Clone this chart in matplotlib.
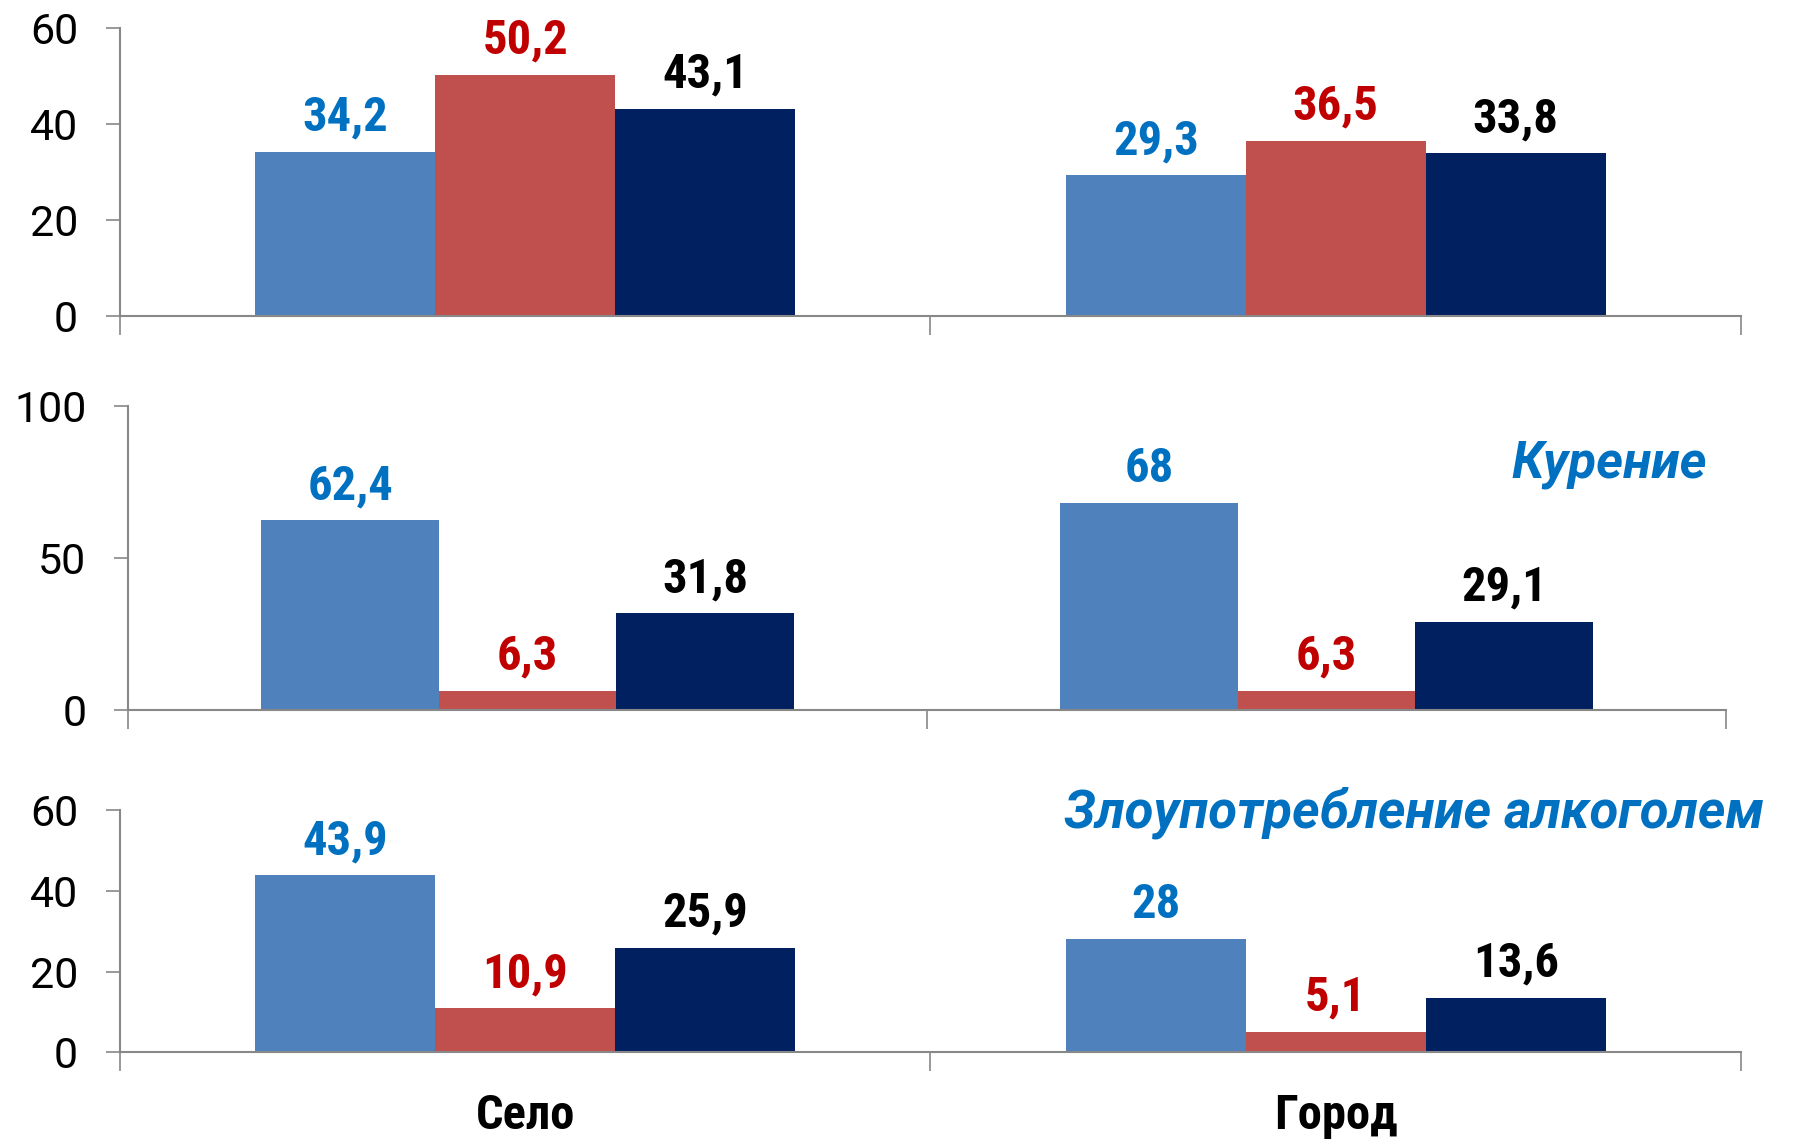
import matplotlib
matplotlib.use('Agg')
import matplotlib.pyplot as plt
import numpy as np

# данные
categories = ['Село', 'Город']
panel_titles = ['', 'Курение', 'Злоупотребление алкоголем']

top_blue = [34.2, 29.3]
top_red = [50.2, 36.5]
top_navy = [43.1, 33.8]

smoke_blue = [62.4, 68]
smoke_red = [6.3, 6.3]
smoke_navy = [31.8, 29.1]

alco_blue = [43.9, 28]
alco_red = [10.9, 5.1]
alco_navy = [25.9, 13.6]

top_ticks = [0, 20, 40, 60]
smoke_ticks = [0, 50, 100]
alco_ticks = [0, 20, 40, 60]

bar_colors = ['#4F81BD', '#C0504D', '#002060']
label_colors = ['#0070C0', '#C00000', '#000000']

condensed = ['Roboto Condensed', 'Roboto', 'DejaVu Sans']
regular = ['Roboto', 'DejaVu Sans']
plt.rcParams['font.family'] = condensed

fig = plt.figure(figsize=(18.08, 11.4), dpi=100)

# положение осей (доли фигуры)
rects = [
    [0.0663, 0.7230, 0.8967, 0.2527],
    [0.0708, 0.3771, 0.8839, 0.2670],
    [0.0663, 0.0768, 0.8967, 0.2124],
]
panels = [
    (top_blue, top_red, top_navy, top_ticks),
    (smoke_blue, smoke_red, smoke_navy, smoke_ticks),
    (alco_blue, alco_red, alco_navy, alco_ticks),
]

bw = 0.222
x = np.arange(len(categories)) + 0.5

for i, (rect, (b, r, n, ticks)) in enumerate(zip(rects, panels)):
    ax = fig.add_axes(rect)
    for j, vals in enumerate([b, r, n]):
        bars = ax.bar(x + (j - 1) * bw, vals, width=bw, color=bar_colors[j],
                      edgecolor='none', zorder=2)
        for bar, v in zip(bars, vals):
            txt = f'{v:g}'.replace('.', ',')
            ax.annotate(txt, (bar.get_x() + bar.get_width() / 2, bar.get_height()),
                        xytext=(0, 8), textcoords='offset points',
                        ha='center', va='bottom', fontsize=35, fontweight='bold',
                        color=label_colors[j])
    ax.set_xlim(0, 2)
    ax.set_ylim(0, ticks[-1])
    ax.set_yticks(ticks)
    ax.set_yticklabels([str(t) for t in ticks], fontsize=31, family=regular)
    ax.set_xticks([0, 1, 2])
    ax.set_xticklabels([])
    ax.tick_params(axis='y', length=10, width=1.2, color='#888888', pad=20)
    ax.tick_params(axis='x', length=14, width=1.2, color='#888888')
    for s in ['top', 'right']:
        ax.spines[s].set_visible(False)
    for s in ['left', 'bottom']:
        ax.spines[s].set_color('#888888')
        ax.spines[s].set_linewidth(1.5)

    if i == 1:
        ax.text(0.988, 0.807, panel_titles[i], transform=ax.transAxes,
                ha='right', va='center', fontsize=37, fontweight='bold',
                style='italic', color='#0070C0', family=regular)
    elif i == 2:
        ax.text(1.014, 0.99, panel_titles[i], transform=ax.transAxes,
                ha='right', va='center', fontsize=38, fontweight='bold',
                style='italic', color='#0070C0', family=regular)
        for xc, cat in zip(x, categories):
            ax.text(xc, -0.262, cat, transform=ax.get_xaxis_transform(),
                    ha='center', va='center', fontsize=35, fontweight='bold')

fig.savefig('out.png', dpi=100)
